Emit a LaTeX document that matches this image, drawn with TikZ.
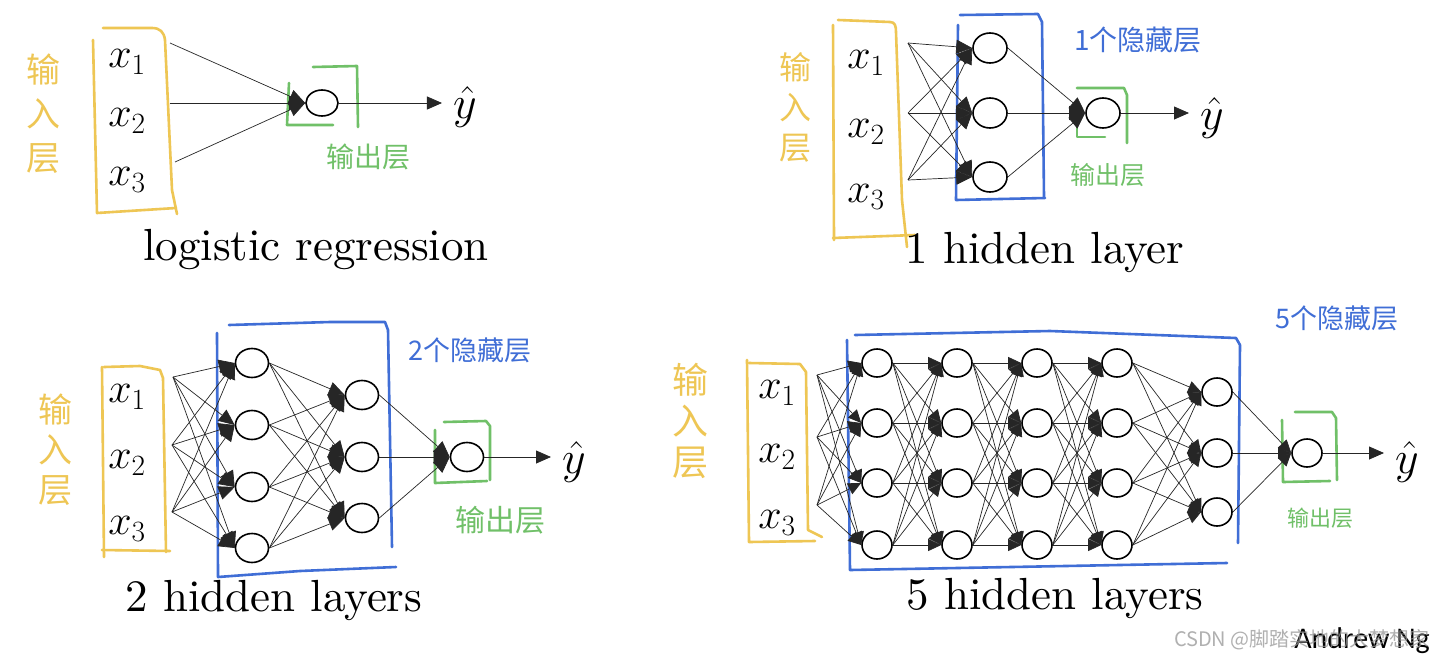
\documentclass[tikz,border=0pt]{standalone}
\usepackage{fix-cm}
\usepackage{fontspec}
\newfontfamily\cjk{Noto Sans CJK SC}
\newfontfamily\cali{Carlito}
\newfontfamily\capfont{lmroman10-regular.otf}
\usetikzlibrary{arrows.meta,shapes.geometric}
\definecolor{hy}{RGB}{238,198,84}
\definecolor{hg}{RGB}{112,192,104}
\definecolor{hb}{RGB}{64,110,214}
\definecolor{wm}{RGB}{150,150,150}
\tikzset{
  neuron/.style={ellipse,draw=black,line width=1.6pt,fill=white,minimum width=34pt,minimum height=30pt,inner sep=0pt},
  neuronA/.style={neuron,minimum width=32pt,minimum height=26pt},
  neuronC/.style={neuron,minimum width=33pt,minimum height=29pt},
  neuronS/.style={neuron,minimum width=30pt,minimum height=28pt},
  syn/.style={draw=black!85,line width=0.7pt,-{Triangle[length=16pt,width=14pt]}},
  synS/.style={draw=black!85,line width=0.7pt,-{Triangle[length=13pt,width=12pt]}},
  outarrow/.style={draw=black!85,line width=0.8pt,shorten >=11pt,-{Triangle[length=15pt,width=13pt]}},
  xin/.style={font=\fontsize{42}{42}\selectfont,inner sep=0pt},
  yhat/.style={font=\fontsize{46}{46}\selectfont,inner sep=0pt},
  caption/.style={font=\capfont\fontsize{45}{50}\selectfont,inner sep=0pt},
  hand/.style={line width=2.6pt,line cap=round,line join=round},
  ylab/.style={text=hy,align=center,inner sep=0pt},
  glab/.style={text=hg,inner sep=0pt},
  blab/.style={text=hb,inner sep=0pt},
  pt/.style={inner sep=0pt}
}
\begin{document}
\begin{tikzpicture}[x=1pt,y=-1pt]
\fill[white] (0,0) rectangle (1440,659);
\useasboundingbox (0,0) rectangle (1440,659);

% ===================== Panel 1: logistic regression =====================
\draw[hand,hy] (93,40) -- (97,213) -- (176,208);
\draw[hand,hy] (103,28) -- (152,28) .. controls (160,28) and (164,32) .. (165,40) -- (172,190) -- (177,214);
\draw[hand,hg] (313,67) -- (357,66) -- (358,127);
\draw[hand,hg] (289,83) -- (287,125) -- (333,125);
\node[xin] (a1) at (127,62) {$x_1$};
\node[xin] (a2) at (127,121) {$x_2$};
\node[xin] (a3) at (127,180) {$x_3$};
\coordinate (ai1) at (170,43);
\coordinate (ai2) at (170,103);
\coordinate (ai3) at (175,162);
\node[neuronA] (ao) at (322,103) {};
\node[yhat] (ay) at (465,107) {$\hat{y}$};
\foreach \i in {1,2,3} \draw[syn] (ai\i) -- (ao.west);
\draw[outarrow] (ao.east) -- (ao.east -| ay.west);
\node[caption] (acap) at (316,250) {logistic regression};
\node[ylab,font=\cjk\fontsize{34}{44}\selectfont] (ain) at (43,114) {输\\入\\层};
\node[glab,font=\cjk\fontsize{28}{30}\selectfont] (aout) at (368,157) {输出层};

% ===================== Panel 2: 1 hidden layer =====================
\draw[hand,hy] (833,25) -- (834,240);
\draw[hand,hy] (838,20) -- (890,22) .. controls (895,22) and (896,26) .. (896,32) -- (902,200) -- (907,247);
\draw[hand,hy] (833,238) -- (915,235);
\draw[hand,hb] (960,15) -- (1038,14) -- (1042,22) -- (1044,197);
\draw[hand,hb] (958,25) -- (956,200) -- (1045,198);
\draw[hand,hg] (1077,88) -- (1124,88) -- (1127,95) -- (1127,143);
\draw[hand,hg] (1077,100) -- (1077,137) -- (1105,137);
\node[xin] (b1) at (866,63) {$x_1$};
\node[xin] (b2) at (866,132) {$x_2$};
\node[xin] (b3) at (866,197) {$x_3$};
\coordinate (bi1) at (908,43);
\coordinate (bi2) at (908,113);
\coordinate (bi3) at (908,180);
\node[neuron] (bh1) at (990,48) {};
\node[neuron] (bh2) at (990,113) {};
\node[neuron] (bh3) at (990,177) {};
\node[neuron] (bo) at (1103,113) {};
\node[yhat] (by) at (1212,118) {$\hat{y}$};
\foreach \i in {1,2,3} \foreach \j in {1,2,3} \draw[syn] (bi\i) -- (bh\j.west);
\foreach \i in {1,2,3} \draw[syn] (bh\i.east) -- (bo.west);
\draw[outarrow] (bo.east) -- (bo.east -| by.west);
\node[caption] (bcap) at (1045,252) {1 hidden layer};
\node[ylab,font=\cjk\fontsize{32}{40}\selectfont] (bin) at (795,107) {输\\入\\层};
\node[glab,font=\cjk\fontsize{25}{28}\selectfont] (bout) at (1108,175) {输出层};
\node[blab,font=\cjk\fontsize{28}{30}\selectfont] (bhid) at (1138,40) {1个隐藏层};

% ===================== Panel 3: 2 hidden layers =====================
\draw[hand,hy] (102,367) -- (104,557);
\draw[hand,hy] (104,367) -- (140,366) -- (160,370) -- (163,378) -- (166,552);
\draw[hand,hy] (102,550) -- (170,551);
\draw[hand,hb] (229,325) -- (330,322) -- (385,322) -- (388,330) -- (392,547);
\draw[hand,hb] (217,333) -- (218,577) -- (300,571) -- (396,567);
\draw[hand,hg] (444,422) -- (486,421) -- (490,426) -- (490,480);
\draw[hand,hg] (435,430) -- (435,483) -- (487,481);
\node[xin] (c1) at (127,397) {$x_1$};
\node[xin] (c2) at (127,463) {$x_2$};
\node[xin] (c3) at (127,529) {$x_3$};
\coordinate (ci1) at (173,377);
\coordinate (ci2) at (172,445);
\coordinate (ci3) at (172,512);
\foreach \j/\y in {1/363,2/425,3/487,4/548} \node[neuronC] (ca\j) at (252,\y) {};
\foreach \j/\y in {1/395,2/457,3/518} \node[neuronC] (cb\j) at (362,\y) {};
\node[neuronC] (co) at (467,457) {};
\node[yhat] (cy) at (574,462) {$\hat{y}$};
\foreach \i in {1,2,3} \foreach \j in {1,...,4} \draw[syn] (ci\i) -- (ca\j.west);
\foreach \i in {1,...,4} \foreach \j in {1,2,3} \draw[syn] (ca\i.east) -- (cb\j.west);
\foreach \i in {1,2,3} \draw[syn] (cb\i.east) -- (co.west);
\draw[outarrow] (co.east) -- (co.east -| cy.west);
\node[caption] (ccap) at (274,600) {2 hidden layers};
\node[ylab,font=\cjk\fontsize{34}{40}\selectfont] (cin) at (55,450) {输\\入\\层};
\node[glab,font=\cjk\fontsize{30}{32}\selectfont] (cout) at (500,520) {输出层};
\node[blab,font=\cjk\fontsize{27}{30}\selectfont] (chid) at (470,350) {2个隐藏层};

% ===================== Panel 4: 5 hidden layers =====================
\draw[hand,hy] (747,360) -- (749,542) -- (815,541);
\draw[hand,hy] (749,363) -- (800,364) -- (806,372) -- (808,530) -- (822,537);
\draw[hand,hb] (855,335) -- (1050,331) -- (1236,338) -- (1240,345) -- (1238,543);
\draw[hand,hb] (847,340) -- (850,570) -- (1227,563);
\draw[hand,hg] (1295,412) -- (1332,412) -- (1336,418) -- (1337,480);
\draw[hand,hg] (1282,420) -- (1283,482) -- (1330,481);
\node[xin] (d1) at (777,393) {$x_1$};
\node[xin] (d2) at (777,457) {$x_2$};
\node[xin] (d3) at (777,523) {$x_3$};
\coordinate (di1) at (817,375);
\coordinate (di2) at (817,437);
\coordinate (di3) at (817,505);
\foreach \l/\x in {1/877,2/957,3/1037,4/1117}
  \foreach \j/\y in {1/363,2/423,3/483,4/545}
    \node[neuronS] (d\l-\j) at (\x,\y) {};
\foreach \j/\y in {1/392,2/453,3/512} \node[neuronS] (d5-\j) at (1217,\y) {};
\node[neuronS] (do) at (1307,453) {};
\node[yhat] (dy) at (1407,462) {$\hat{y}$};
\foreach \i in {1,2,3} \foreach \j in {1,...,4} \draw[synS] (di\i) -- (d1-\j.west);
\foreach \l/\m in {1/2,2/3,3/4}
  \foreach \i in {1,...,4} \foreach \j in {1,...,4}
    \draw[synS] (d\l-\i.east) -- (d\m-\j.west);
\foreach \i in {1,...,4} \foreach \j in {1,2,3} \draw[synS] (d4-\i.east) -- (d5-\j.west);
\foreach \i in {1,2,3} \draw[synS] (d5-\i.east) -- (do.west);
\draw[outarrow] (do.east) -- (do.east -| dy.west);
\node[caption] (dcap) at (1055,598) {5 hidden layers};
\node[ylab,font=\cjk\fontsize{36}{41}\selectfont] (din) at (690,421) {输\\入\\层};
\node[glab,font=\cjk\fontsize{22}{24}\selectfont] (dout) at (1320,518) {输出层};
\node[blab,font=\cjk\fontsize{27}{30}\selectfont] (dhid) at (1337,318) {5个隐藏层};

% ===================== Footer =====================
\node[pt,font=\cali\fontsize{30}{32}\selectfont,anchor=east] (ng) at (1430,641) {Andrew Ng};
\node[pt,text=wm,opacity=0.75,font=\cjk\fontsize{20}{22}\selectfont,anchor=east] (wmk) at (1430,640) {CSDN @脚踏实地的大梦想家};
\end{tikzpicture}
\end{document}
